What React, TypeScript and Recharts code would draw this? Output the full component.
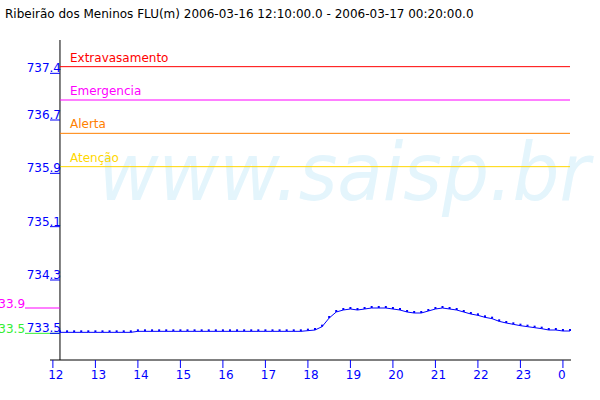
import { LineChart, Line, XAxis, YAxis, ReferenceLine } from "recharts";

// 10-minute readings starting 12:10
const START_HOUR = 12 + 10 / 60;
const STEP_HOURS = 10 / 60;

const levels = [
  733.515, 733.515, 733.515, 733.515, 733.515, 733.515, 733.515, 733.515, 733.515, 733.515, 733.515,
  733.53, 733.53, 733.53, 733.53, 733.53, 733.53, 733.53, 733.53, 733.53, 733.53,
  733.53, 733.53, 733.53, 733.53, 733.53, 733.53, 733.53, 733.53, 733.53, 733.53,
  733.53, 733.53, 733.53,
  733.53, 733.54, 733.55, 733.6, 733.73, 733.82, 733.85, 733.865, 733.85, 733.865,
  733.88, 733.88, 733.88, 733.865, 733.85, 733.82, 733.805, 733.805, 733.835, 733.865,
  733.88, 733.865, 733.85, 733.82, 733.79, 733.77, 733.74, 733.72, 733.68, 733.655,
  733.635, 733.615, 733.6, 733.585, 733.57, 733.55, 733.55, 733.535, 733.535,
];

const hourTicks = [12, 13, 14, 15, 16, 17, 18, 19, 20, 21, 22, 23, 24];
const levelTicks = [733.5, 734.3, 735.1, 735.9, 736.7, 737.4];

const thresholds = [
  { name: "Extravasamento", value: 737.5, color: "#ff0000" },
  { name: "Emergencia", value: 737.0, color: "#ff00ff" },
  { name: "Alerta", value: 736.5, color: "#ff8000" },
  { name: "Atenção", value: 736.0, color: "#ffd700" },
];

const sideMarks = [
  { label: "733.9", value: 733.88, color: "#ff00ff" },
  { label: "733.5", value: 733.5, color: "#33ee33" },
];

const X_MIN = 11.932;
const X_MAX = 24.19;
const SIDE_START = 11.344;

const data = levels.map((level, i) => ({ hour: START_HOUR + i * STEP_HOURS, level }));
const lastHour = START_HOUR + (levels.length - 1) * STEP_HOURS;

const FONT = "DejaVu Sans";
const BLUE = "#0000ff";

const XTick = ({ x, y, payload }: any) => {
  const label = String(payload.value % 24);
  return (
    <g>
      <line x1={x} y1={y} x2={x} y2={y + 8} stroke={BLUE} />
      <text x={x + (label.length > 1 ? 3 : -1)} y={y + 19} textAnchor="middle" fill={BLUE} fontSize={12} fontFamily={FONT}>
        {label}
      </text>
    </g>
  );
};

const YTick = ({ x, y, payload }: any) => (
  <g>
    <line x1={x} y1={y} x2={x + 10} y2={y} stroke={BLUE} />
    <text x={x + 11} y={y - 1} textAnchor="end" fill={BLUE} fontSize={12} fontFamily={FONT}>
      {payload.value.toFixed(1)}
    </text>
  </g>
);

const thresholdLabel = (name: string, color: string) => ({ viewBox }: any) => (
  <text x={viewBox.x + 10} y={viewBox.y - 5} fill={color} fontSize={12} fontFamily={FONT}>
    {name}
  </text>
);

const sideLabel = (label: string, color: string) => ({ viewBox }: any) => (
  <text x={viewBox.x} y={viewBox.y} textAnchor="end" fill={color} fontSize={12} fontFamily={FONT}>
    {label}
  </text>
);

export default function App() {
  return (
    <div style={{ position: "absolute", left: 0, top: 0, width: 600, height: 400, background: "#fff", overflow: "hidden" }}>
      <svg width={600} height={400} style={{ position: "absolute", left: 0, top: 0 }}>
        <text x={5} y={18} fontSize={12} fontFamily={FONT} fill="#000">
          Ribeirão dos Meninos FLU(m) 2006-03-16 12:10:00.0 - 2006-03-17 00:20:00.0
        </text>
        <text x={98} y={200} fontSize={80} fontStyle="italic" fontFamily={FONT} fill="#e4f5fc" textLength={492} lengthAdjust="spacingAndGlyphs">
          www.saisp.br
        </text>
      </svg>
      <div style={{ position: "absolute", left: 0, top: 0 }}>
        <LineChart width={600} height={400} data={data} margin={{ top: 40, right: 29, bottom: 0, left: 0 }}>
          <XAxis
            type="number"
            dataKey="hour"
            domain={[X_MIN, X_MAX]}
            ticks={hourTicks}
            allowDataOverflow
            stroke="#000"
            tickLine={false}
            tickSize={0}
            tickMargin={0}
            height={40}
            tick={<XTick />}
            interval={0}
          />
          <YAxis
            type="number"
            domain={[733.1, 737.9]}
            ticks={levelTicks}
            allowDataOverflow
            axisLine={false}
            tickLine={false}
            tickSize={0}
            tickMargin={0}
            width={50}
            tick={<YTick />}
            interval={0}
          />
          <ReferenceLine x={START_HOUR} stroke="#000" />
          {thresholds.map((t) => (
            <ReferenceLine
              key={t.name}
              segment={[{ x: START_HOUR, y: t.value }, { x: lastHour, y: t.value }]}
              stroke={t.color}
              label={thresholdLabel(t.name, t.color)}
            />
          ))}
          {sideMarks.map((m) => (
            <ReferenceLine
              key={m.label}
              segment={[{ x: SIDE_START, y: m.value }, { x: START_HOUR, y: m.value }]}
              stroke={m.color}
              ifOverflow="visible"
              label={sideLabel(m.label, m.color)}
            />
          ))}
          <Line
            type="linear"
            dataKey="level"
            stroke={BLUE}
            strokeWidth={1}
            isAnimationActive={false}
            dot={({ cx, cy, index }: any) => (
              <rect key={index} x={cx - 1} y={cy - 2} width={2} height={2} fill={BLUE} />
            )}
          />
        </LineChart>
      </div>
    </div>
  );
}
